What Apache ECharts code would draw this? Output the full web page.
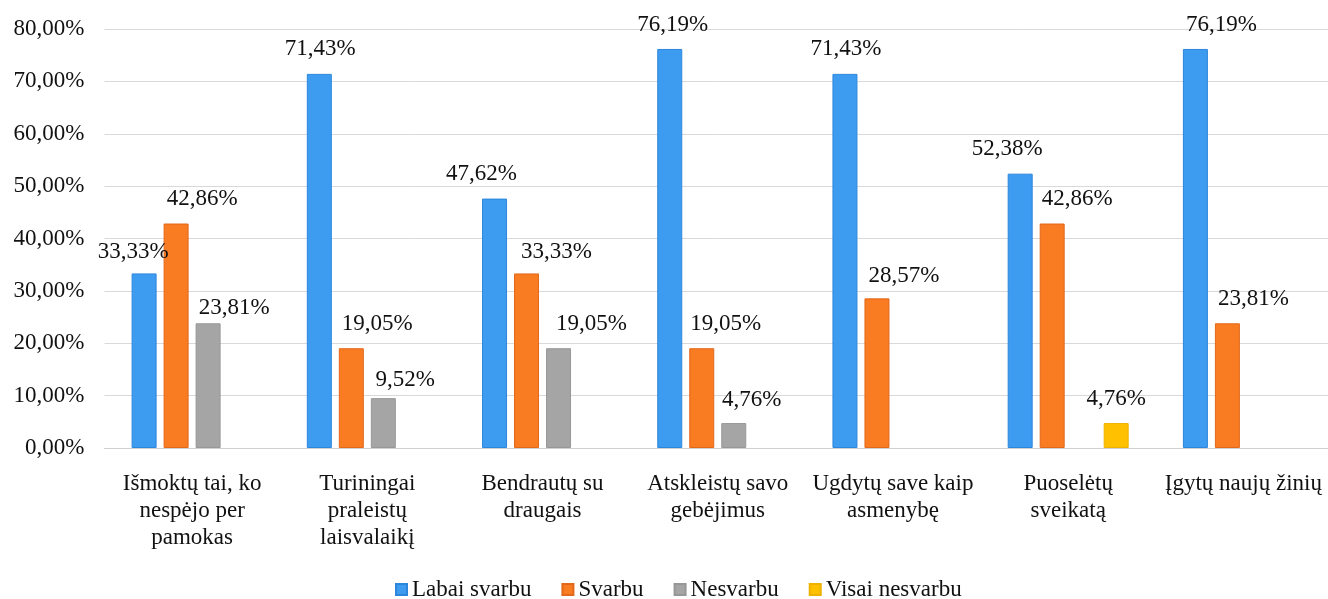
<!DOCTYPE html>
<html>
<head>
<meta charset="utf-8">
<script src="https://cdn.jsdelivr.net/npm/echarts@6/dist/echarts.min.js"></script>
<style>html,body{margin:0;padding:0;background:#fff;}#c{width:1328px;height:599px;}</style>
</head>
<body>
<div id="c"></div>
<script>
const categories = [
  "Išmoktų tai, ko\nnespėjo per\npamokas",
  "Turiningai\npraleistų\nlaisvalaikį",
  "Bendrautų su\ndraugais",
  "Atskleistų savo\ngebėjimus",
  "Ugdytų save kaip\nasmenybę",
  "Puoselėtų\nsveikatą",
  "Įgytų naujų žinių"
];
const seriesNames = ["Labai svarbu", "Svarbu", "Nesvarbu", "Visai nesvarbu"];
const labaiSvarbu = [33.33, 71.43, 47.62, 76.19, 71.43, 52.38, 76.19];
const svarbu = [42.86, 19.05, 33.33, 19.05, 28.57, 42.86, 23.81];
const nesvarbu = [23.81, 9.52, 19.05, 4.76, null, null, null];
const visaiNesvarbu = [null, null, null, null, null, 4.76, null];
const yTicks = { min: 0, max: 80, interval: 10 };

// label placement tweaks (style, not data)
const labelShift = [
  [[-11,3],[1,0],[-13,0],[3,0],[1,0],[-13,0],[26,0]],
  [[26,0],[26,0],[30,3],[24,0],[27,2],[25,0],[26,0]],
  [[26,9],[22,6],[33,0],[18,1],[0,0],[0,0],[0,0]],
  [[0,0],[0,0],[0,0],[0,0],[0,0],[0,0],[0,0]]
];
const colors = ["#3D9BF0", "#F97B22", "#A5A5A5", "#FFC000"];
const borders = ["#2C86DC", "#E2681A", "#979797", "#EDB200"];
const values = [labaiSvarbu, svarbu, nesvarbu, visaiNesvarbu];
const FONT = "'Liberation Serif', 'Times New Roman', serif";
const fmt = v => v.toFixed(2).replace('.', ',') + '%';

const series = values.map((arr, si) => ({
  name: seriesNames[si],
  type: 'bar',
  barWidth: 25,
  barGap: '28%',
  itemStyle: { color: colors[si], borderColor: borders[si], borderWidth: 1 },
  label: {
    show: true, position: 'top', distance: 13,
    fontFamily: FONT, fontSize: 23, color: '#111',
    formatter: p => fmt(p.value)
  },
  data: arr.map((v, ci) => v == null ? null : ({ value: v, label: { offset: labelShift[si][ci] } }))
}));

const chart = echarts.init(document.getElementById('c'));
chart.setOption({
  animation: false,
  backgroundColor: '#fff',
  color: colors,
  grid: { left: 104.5, right: -3, top: 29, bottom: 151, containLabel: false, outerBoundsMode: 'none' },
  legend: {
    left: 395, top: 578, padding: 0,
    itemWidth: 11, itemHeight: 11, itemGap: 30,
    icon: 'rect',
    textStyle: { fontFamily: FONT, fontSize: 23, color: '#111', lineHeight: 23 },
    data: seriesNames
  },
  xAxis: {
    type: 'category',
    data: categories,
    axisLine: { lineStyle: { color: '#d0d0d0', width: 1 } },
    axisTick: { show: false },
    axisLabel: { fontFamily: FONT, fontSize: 23, color: '#111', lineHeight: 27, margin: 22, interval: 0 }
  },
  yAxis: {
    type: 'value',
    min: yTicks.min, max: yTicks.max, interval: yTicks.interval,
    axisLine: { show: false },
    axisTick: { show: false },
    splitLine: { lineStyle: { color: '#d9d9d9', width: 1 } },
    axisLabel: { fontFamily: FONT, fontSize: 23, color: '#111', margin: 20, formatter: v => fmt(v) }
  },
  series: series
});
</script>
</body>
</html>
